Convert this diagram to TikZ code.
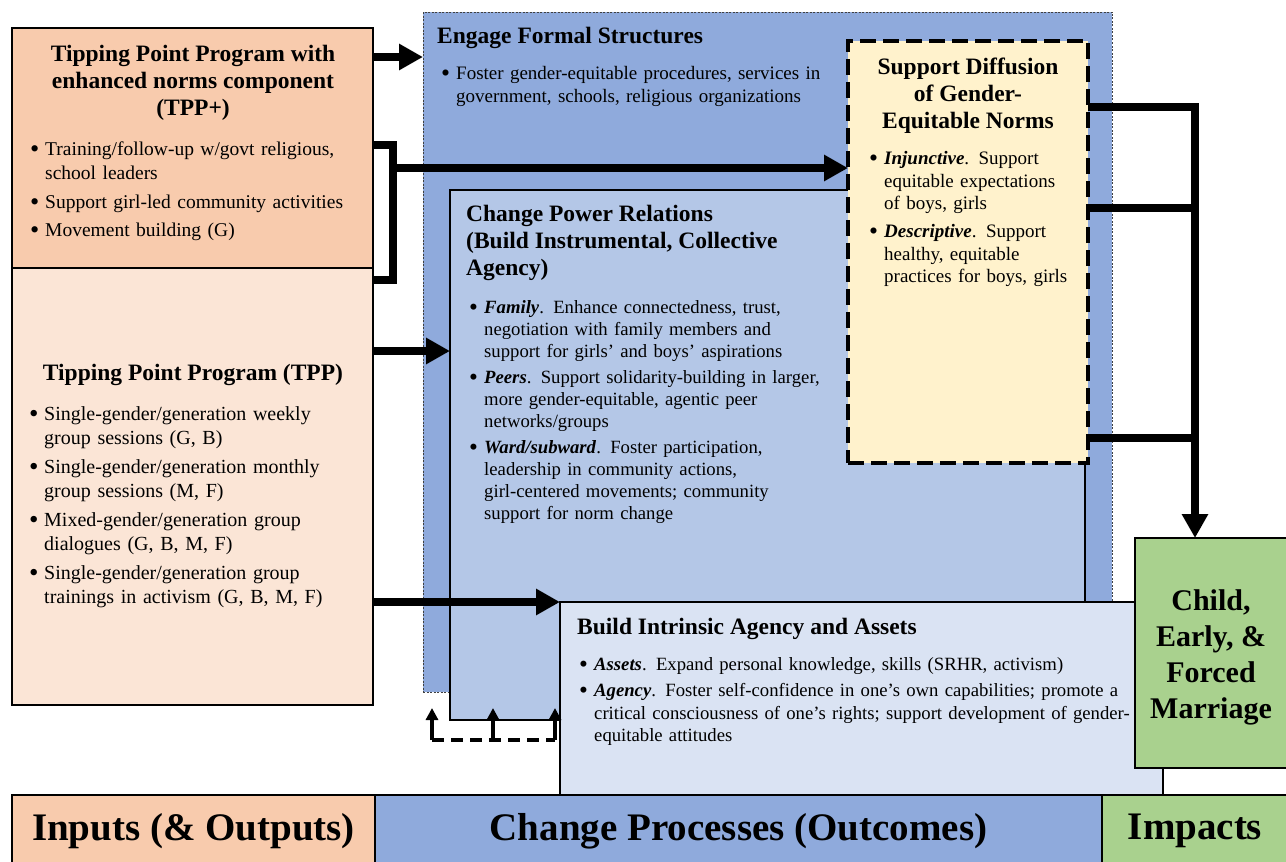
\documentclass[tikz,border=0pt]{standalone}
\usepackage{fontspec}
\setmainfont{Liberation Serif}
\usepackage{tikz}
\usetikzlibrary{arrows.meta}

\definecolor{peach}{HTML}{F8CBAD}
\definecolor{lightpeach}{HTML}{FBE5D6}
\definecolor{blueA}{HTML}{8FAADC}
\definecolor{blueB}{HTML}{B4C7E7}
\definecolor{blueC}{HTML}{DAE3F3}
\definecolor{paleyellow}{HTML}{FFF2CC}
\definecolor{leafgreen}{HTML}{A9D18E}

% one bullet item, lines broken by hand
\newcommand{\bul}[1]{\par\noindent\makebox[15pt][l]{\raisebox{-0.12em}{\scalebox{1.35}{\textbullet}}}\begin{tabular}[t]{@{}l@{}}#1\end{tabular}}
\newcommand{\igap}[1][4pt]{\par\vspace{#1}}
\newcommand{\bi}[1]{\textbf{\textit{#1}}}

\tikzset{
  box/.style={draw, anchor=north west, inner sep=0pt, outer sep=0pt},
  ttl/.style={font=\fontsize{23.5}{27}\selectfont\bfseries, inner sep=0pt, align=center},
  txt/.style={anchor=north west, inner sep=0pt, align=left},
  band/.style={box, line width=1.2pt, minimum height=72pt, font=\fontsize{39}{44}\selectfont\bfseries},
  fat/.style={line width=8pt},
  bigtip/.style={-{Triangle[width=25pt,length=24pt]}},
  fb/.style={line width=3.5pt},
}

\begin{document}
\begin{tikzpicture}[x=1pt, y=-1pt]
\useasboundingbox (0,0) rectangle (1286,862);

% change process boxes
\node[box, fill=blueA, draw=black!75, line width=0.9pt, dash pattern=on 2pt off 1.5pt,
      minimum width=689pt, minimum height=680pt] (engage) at (423,12) {};
\node[box, fill=blueB, line width=2.5pt, minimum width=635pt, minimum height=530pt] (power) at (450,190) {};
\node[box, fill=paleyellow, line width=4.5pt, dash pattern=on 16pt off 7pt,
      minimum width=240pt, minimum height=422pt] (norms) at (848,41) {};
\node[box, fill=blueC, line width=1.5pt, minimum width=603pt, minimum height=193pt] (intrinsic) at (560,602) {};

% inputs
\node[box, fill=peach, line width=2pt, minimum width=361pt, minimum height=240pt] (tppplus) at (12,28) {};
\node[box, fill=lightpeach, line width=2pt, minimum width=361pt, minimum height=437pt] (tpp) at (12,268) {};

% impact
\node[box, fill=leafgreen, line width=1.5pt, minimum width=152pt, minimum height=230pt] (cefm) at (1135,538) {};
\node[align=center, inner sep=0pt, font=\fontsize{30}{36}\selectfont\bfseries] (cefmT) at (1211,657)
      {Child,\\Early, \&\\Forced\\Marriage};

% bottom band
\node[band, fill=peach, minimum width=363pt] (inputs) at (12,795) {Inputs (\& Outputs)};
\node[band, fill=blueA, minimum width=727pt] (process) at (375,795) {Change Processes (Outcomes)};
\node[band, fill=leafgreen, minimum width=186pt] (impacts) at (1102,795) {Impacts};

% texts
\node[ttl] (plusT) at (193,83) {Tipping Point Program with\\enhanced norms component\\(TPP+)};
\node[txt, font=\fontsize{19.5}{24}\selectfont, text width=335pt] (plusL) at (30,131) {%
  \bul{Training/follow-up w/govt religious,\\school leaders}
  \igap\bul{Support girl-led community activities}
  \igap\bul{Movement building (G)}};

\node[ttl] (tppT) at (193,375) {Tipping Point Program (TPP)};
\node[txt, font=\fontsize{20}{24}\selectfont, text width=335pt] (tppL) at (29,396) {%
  \bul{Single-gender/generation weekly\\group sessions (G, B)}
  \igap\bul{Single-gender/generation monthly\\group sessions (M, F)}
  \igap\bul{Mixed-gender/generation group\\dialogues (G, B, M, F)}
  \igap\bul{Single-gender/generation group\\trainings in activism (G, B, M, F)}};

\node[ttl, anchor=west] (engageT) at (437,38) {Engage Formal Structures};
\node[txt, font=\fontsize{19}{22.5}\selectfont, text width=400pt] (engageL) at (441,57) {%
  \bul{Foster gender-equitable procedures, services in\\government, schools, religious organizations}};

\node[ttl, anchor=north west, align=left] (powerT) at (466,205)
  {Change Power Relations\\(Build Instrumental, Collective\\Agency)};
\node[txt, font=\fontsize{18.7}{22}\selectfont, text width=375pt] (powerL) at (469,291) {%
  \bul{\bi{Family}. Enhance connectedness, trust,\\negotiation with family members and\\support for girls' and boys' aspirations}
  \igap[3pt]\bul{\bi{Peers}. Support solidarity-building in larger,\\more gender-equitable, agentic peer\\networks/groups}
  \igap[3pt]\bul{\bi{Ward/subward}. Foster participation,\\leadership in community actions,\\girl-centered movements; community\\support for norm change}};

\node[ttl] (normsT) at (968,96) {Support Diffusion\\of Gender-\\Equitable Norms};
\node[txt, font=\fontsize{19}{22.5}\selectfont, text width=215pt] (normsL) at (869,142) {%
  \bul{\bi{Injunctive}. Support\\equitable expectations\\of boys, girls}
  \igap[4.5pt]\bul{\bi{Descriptive}. Support\\healthy, equitable\\practices for boys, girls}};

\node[ttl, anchor=west] (intrinsicT) at (577,629) {Build Intrinsic Agency and Assets};
\node[txt, font=\fontsize{18.7}{22.5}\selectfont, text width=580pt] (intrinsicL) at (579,648) {%
  \bul{\bi{Assets}. Expand personal knowledge, skills (SRHR, activism)}
  \igap[3.5pt]\bul{\bi{Agency}. Foster self-confidence in one's own capabilities; promote a\\critical consciousness of one's rights; support development of gender-\\equitable attitudes}};

% connectors
\coordinate (r1) at (0,57);
\coordinate (r2) at (0,168);
\coordinate (r3) at (0,351);
\coordinate (brtop) at (393,145);
\coordinate (brbot) at (393,280);
\coordinate (rail) at (1195,107);
\coordinate (m2) at (0,208);
\coordinate (m3) at (0,438);
\coordinate (fbL) at (432,740);
\coordinate (fbM) at (493,740);
\coordinate (fbR) at (555,740);
\coordinate (fbtop) at (0,708);

\draw[fat] (tppplus.east |- brtop) -- (brtop) -- (brbot) -- (tpp.east |- brbot);
\path[fat, bigtip]
  (tppplus.east |- r1) edge (engage.west |- r1)
  (brtop |- r2) edge (norms.west |- r2)
  (tpp.east |- r3) edge (power.west |- r3)
  (tpp.east |- intrinsic.north west) edge (intrinsic.north west);

\draw[fat, bigtip] (norms.east |- rail) -- (rail) -- (rail |- cefm.north);
\draw[fat] (norms.east |- m2) -- (rail |- m2);
\draw[fat] (norms.east |- m3) -- (rail |- m3);

% feedback to the change processes
\draw[fb, dash pattern=on 12pt off 7pt] (fbL) -- (fbR);
\foreach \p in {fbL,fbM,fbR}
  \draw[fb, -{Triangle[width=12pt,length=12pt]}] (\p) -- (\p |- fbtop);
\end{tikzpicture}
\end{document}
